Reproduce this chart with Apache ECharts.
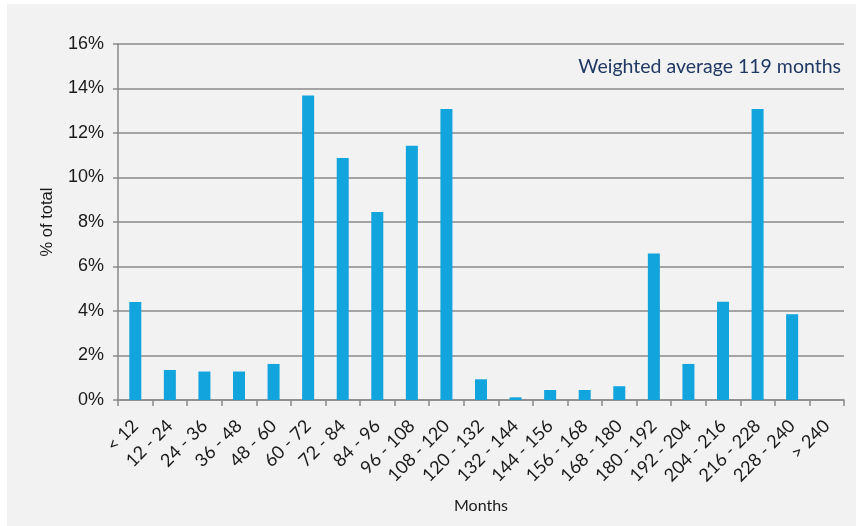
<!DOCTYPE html>
<html>
<head>
<meta charset="utf-8">
<script src="https://cdn.jsdelivr.net/npm/echarts@6/dist/echarts.min.js"></script>
<style>
  html, body { margin: 0; padding: 0; background: #ffffff; }
  #wrap { position: absolute; left: 7px; top: 4px; width: 849px; height: 522px; background: #f2f2f2; }
  #chart { position: absolute; left: -7px; top: -4px; width: 856px; height: 526px; }
</style>
</head>
<body>
<div id="wrap"><div id="chart"></div></div>
<script>
// Maturity buckets (months) and share of total, in percent
const categories = ['< 12', '12 - 24', '24 - 36', '36 - 48', '48 - 60', '60 - 72', '72 - 84',
  '84 - 96', '96 - 108', '108 - 120', '120 - 132', '132 - 144', '144 - 156', '156 - 168',
  '168 - 180', '180 - 192', '192 - 204', '204 - 216', '216 - 228', '228 - 240', '> 240'];
const shareOfTotal = [4.4, 1.35, 1.28, 1.28, 1.62, 13.68, 10.88, 8.45, 11.43, 13.08, 0.93,
  0.12, 0.45, 0.45, 0.62, 6.58, 1.62, 4.42, 13.08, 3.85, 0];
const yTicks = { min: 0, max: 16, step: 2 };
const note = 'Weighted average 119 months';

const chart = echarts.init(document.getElementById('chart'), null, { renderer: 'canvas' });
const axisGray = '#8a8a8a';

chart.setOption({
  backgroundColor: 'transparent',
  animation: false,
  grid: { left: 118, right: 12, top: 44, bottom: 126, containLabel: false },
  xAxis: {
    type: 'category',
    data: categories,
    boundaryGap: true,
    name: 'Months',
    nameLocation: 'middle',
    nameGap: 98,
    nameTextStyle: { fontFamily: 'Lato', fontSize: 16, color: '#1a1a1a' },
    axisLine: { lineStyle: { color: axisGray, width: 1.5 } },
    axisTick: { show: true, alignWithLabel: false, length: 6, lineStyle: { color: axisGray, width: 1.5 } },
    axisLabel: {
      interval: 0, rotate: 45, margin: 23,
      fontFamily: 'Lato', fontSize: 18, color: '#1a1a1a'
    }
  },
  yAxis: {
    type: 'value',
    min: yTicks.min, max: yTicks.max, interval: yTicks.step,
    name: '% of total',
    nameLocation: 'middle',
    nameGap: 62,
    nameRotate: 90,
    nameTextStyle: { fontFamily: 'Liberation Sans', fontSize: 16.5, color: '#1a1a1a' },
    axisLine: { show: true, lineStyle: { color: axisGray, width: 1.5 } },
    axisTick: { show: true, length: 5, lineStyle: { color: axisGray, width: 1.5 } },
    axisLabel: {
      formatter: '{value}%', margin: 14,
      fontFamily: 'Liberation Sans', fontSize: 18, color: '#1a1a1a'
    },
    splitLine: { show: true, lineStyle: { color: axisGray, width: 1.5 } }
  },
  series: [{
    type: 'bar',
    data: shareOfTotal,
    barWidth: 12,
    itemStyle: { color: '#12a4dc' }
  }],
  graphic: [{
    type: 'text',
    right: 15,
    top: 57,
    style: {
      text: note,
      fontFamily: 'Lato',
      fontSize: 19.5,
      fill: '#1f3864'
    }
  }]
});
</script>
</body>
</html>
